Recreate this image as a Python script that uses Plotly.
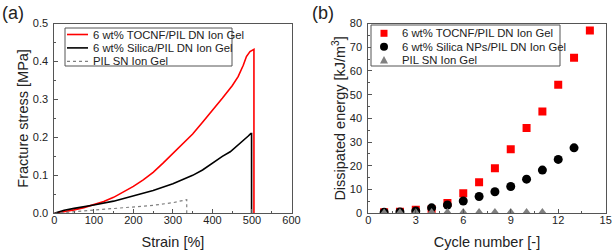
import plotly.graph_objects as go

# ---- Panel (a) data ----
strain_tocnf = [0, 25, 50, 75, 100, 125, 150, 175, 200, 225, 250, 275, 300, 325, 350,
                375, 400, 425, 450, 465, 478, 486, 495, 503, 505, 505]
stress_tocnf = [0, 0.004, 0.009, 0.015, 0.022, 0.031, 0.042, 0.056, 0.071, 0.088, 0.108,
                0.132, 0.158, 0.184, 0.209, 0.24, 0.27, 0.303, 0.336, 0.36, 0.39, 0.413,
                0.426, 0.432, 0.432, 0]
strain_silica = [0, 10, 25, 50, 75, 100, 150, 200, 250, 300, 350, 375, 400, 410, 425,
                 445, 460, 475, 490, 497, 499, 499]
stress_silica = [0, 0.004, 0.008, 0.013, 0.017, 0.022, 0.032, 0.045, 0.06, 0.078, 0.1,
                 0.114, 0.133, 0.141, 0.15, 0.162, 0.175, 0.19, 0.203, 0.21, 0.21, 0]
strain_pil = [0, 50, 100, 150, 200, 250, 300, 335, 335]
stress_pil = [0, 0.004, 0.008, 0.012, 0.016, 0.021, 0.028, 0.036, 0]
legend_a = ["6 wt% TOCNF/PIL DN Ion Gel", "6 wt% Silica/PIL DN Ion Gel", "PIL SN Ion Gel"]

# ---- Panel (b) data ----
cycles_tocnf = [1, 2, 3, 4, 5, 6, 7, 8, 9, 10, 11, 12, 13, 14]
energy_tocnf = [0.4, 0.7, 1.5, 1.7, 4.3, 8.5, 13.1, 19.0, 27.0, 36.0, 42.9, 54.2, 65.6, 77.1]
cycles_silica = [1, 2, 3, 4, 5, 6, 7, 8, 9, 10, 11, 12, 13]
energy_silica = [0.4, 0.6, 1.0, 2.3, 3.5, 5.2, 7.1, 9.1, 11.3, 14.4, 18.2, 22.7, 27.6]
cycles_pil = [1, 2, 3, 4, 5, 6, 7, 8, 9, 10, 11]
energy_pil = [0.3, 0.4, 0.4, 0.5, 0.5, 0.5, 0.5, 0.5, 0.5, 0.5, 0.5]
legend_b = ["6 wt% TOCNF/PIL DN Ion Gel", "6 wt% Silica NPs/PIL DN Ion Gel", "PIL SN Ion Gel"]

RED = "#ff0000"
GRAY = "#808080"
TXT = "#222222"
FONT = "Liberation Sans, Arial, sans-serif"
W, H = 613, 251
frame = "#555555"

fig = go.Figure()

line_styles = [dict(color=RED, width=1.6), dict(color="black", width=1.6),
               dict(color=GRAY, width=1.2, dash="dot")]
for xs, ys, st, nm in zip([strain_tocnf, strain_silica, strain_pil],
                          [stress_tocnf, stress_silica, stress_pil], line_styles, legend_a):
    fig.add_trace(go.Scatter(x=xs, y=ys, mode="lines", line=st, name=nm,
                             showlegend=False, xaxis="x", yaxis="y"))

marker_styles = [dict(symbol="square", color=RED, size=8),
                 dict(symbol="circle", color="black", size=9),
                 dict(symbol="triangle-up", color=GRAY, size=8)]
for xs, ys, mk, nm in zip([cycles_tocnf, cycles_silica, cycles_pil],
                          [energy_tocnf, energy_silica, energy_pil], marker_styles, legend_b):
    fig.add_trace(go.Scatter(x=xs, y=ys, mode="markers", marker=mk, name=nm,
                             showlegend=False, xaxis="x2", yaxis="y2"))


def ax(domain, rng, dtick, minor_dtick, title, anchor, fmt=None, is_x=True):
    d = dict(domain=domain, range=rng, dtick=dtick, tick0=0,
             showline=True, mirror=True, linecolor=frame, linewidth=1,
             ticks="inside", ticklen=4, tickcolor=frame, tickwidth=1,
             minor=dict(ticks="inside", ticklen=2, dtick=minor_dtick, tickcolor=frame),
             showgrid=False, zeroline=False, anchor=anchor, automargin=False,
             tickfont=dict(size=11, color=TXT),
             title=dict(text=title, font=dict(size=14.5, color=TXT),
                        standoff=12 if is_x else 0),
             ticklabelstandoff=-4 if is_x else 3)
    if fmt:
        d["tickformat"] = fmt
    return d


ydom = [1 - 213.3 / H, 1 - 23.5 / H]

# ---- hand-built compact legends (paper coordinates) ----
def px(x):
    return x / W


def py(y):
    return 1 - y / H


shapes = []
annotations = []

# legend (a)
shapes.append(dict(type="rect", xref="paper", yref="paper", x0=px(65), x1=px(232),
                   y0=py(66), y1=py(28), line=dict(color=frame, width=1),
                   fillcolor="white", layer="above"))
for i, (nm, st) in enumerate(zip(legend_a, line_styles)):
    yc = 34.5 + 13.4 * i
    shapes.append(dict(type="line", xref="paper", yref="paper", x0=px(67), x1=px(88),
                       y0=py(yc), y1=py(yc), line=st, layer="above"))
    annotations.append(dict(text=nm, x=px(90.5), y=py(yc), xref="paper", yref="paper",
                            xanchor="left", yanchor="middle", showarrow=False,
                            font=dict(size=11.3, color=TXT)))

# legend (b)
shapes.append(dict(type="rect", xref="paper", yref="paper", x0=px(371), x1=px(560),
                   y0=py(66), y1=py(25), line=dict(color=frame, width=1),
                   fillcolor="white", layer="above"))
for i, nm in enumerate(legend_b):
    yc = 33.3 + 13.4 * i
    xc = 384
    if i == 0:
        shapes.append(dict(type="rect", xref="paper", yref="paper",
                           x0=px(xc - 3.5), x1=px(xc + 3.5), y0=py(yc + 3.5), y1=py(yc - 3.5),
                           fillcolor=RED, line=dict(width=0), layer="above"))
    elif i == 1:
        shapes.append(dict(type="circle", xref="paper", yref="paper",
                           x0=px(xc - 4), x1=px(xc + 4), y0=py(yc + 4), y1=py(yc - 4),
                           fillcolor="black", line=dict(width=0), layer="above"))
    else:
        path = "M {} {} L {} {} L {} {} Z".format(px(xc - 4), py(yc + 3.5), px(xc + 4), py(yc + 3.5),
                                                  px(xc), py(yc - 4))
        shapes.append(dict(type="path", xref="paper", yref="paper", path=path,
                           fillcolor=GRAY, line=dict(width=0), layer="above"))
    annotations.append(dict(text=nm, x=px(399.5), y=py(yc), xref="paper", yref="paper",
                            xanchor="left", yanchor="middle", showarrow=False,
                            font=dict(size=11.3, color=TXT)))

annotations += [
    dict(text="(a)", x=0, y=py(1), xref="paper", yref="paper", xanchor="left",
         yanchor="top", showarrow=False, font=dict(size=18, color=TXT)),
    dict(text="(b)", x=px(310), y=py(1), xref="paper", yref="paper", xanchor="left",
         yanchor="top", showarrow=False, font=dict(size=18, color=TXT)),
]

fig.update_layout(
    width=W, height=H,
    margin=dict(l=0, r=0, t=0, b=0),
    paper_bgcolor="white", plot_bgcolor="white",
    font=dict(family=FONT, color=TXT),
    xaxis=ax([54.3 / W, 291.5 / W], [0, 600], 100, 50, "Strain [%]", "y"),
    yaxis=ax(ydom, [0, 0.5], 0.1, 0.05, "Fracture stress [MPa]", "x", fmt=".1f", is_x=False),
    xaxis2=ax([368.3 / W, 605.7 / W], [0, 15], 3, 1.5, "Cycle number [-]", "y2"),
    yaxis2=ax(ydom, [0, 80], 10, 5, "Dissipated energy [kJ/m<sup>3</sup>]", "x2", is_x=False),
    showlegend=False,
    shapes=shapes,
    annotations=annotations,
)

# remove the browser's default 8px body margin so the figure sits at the page origin
fig.write_html("out.html", config={"displayModeBar": False},
               post_script="document.body.style.margin='0';document.body.style.overflow='hidden';")
